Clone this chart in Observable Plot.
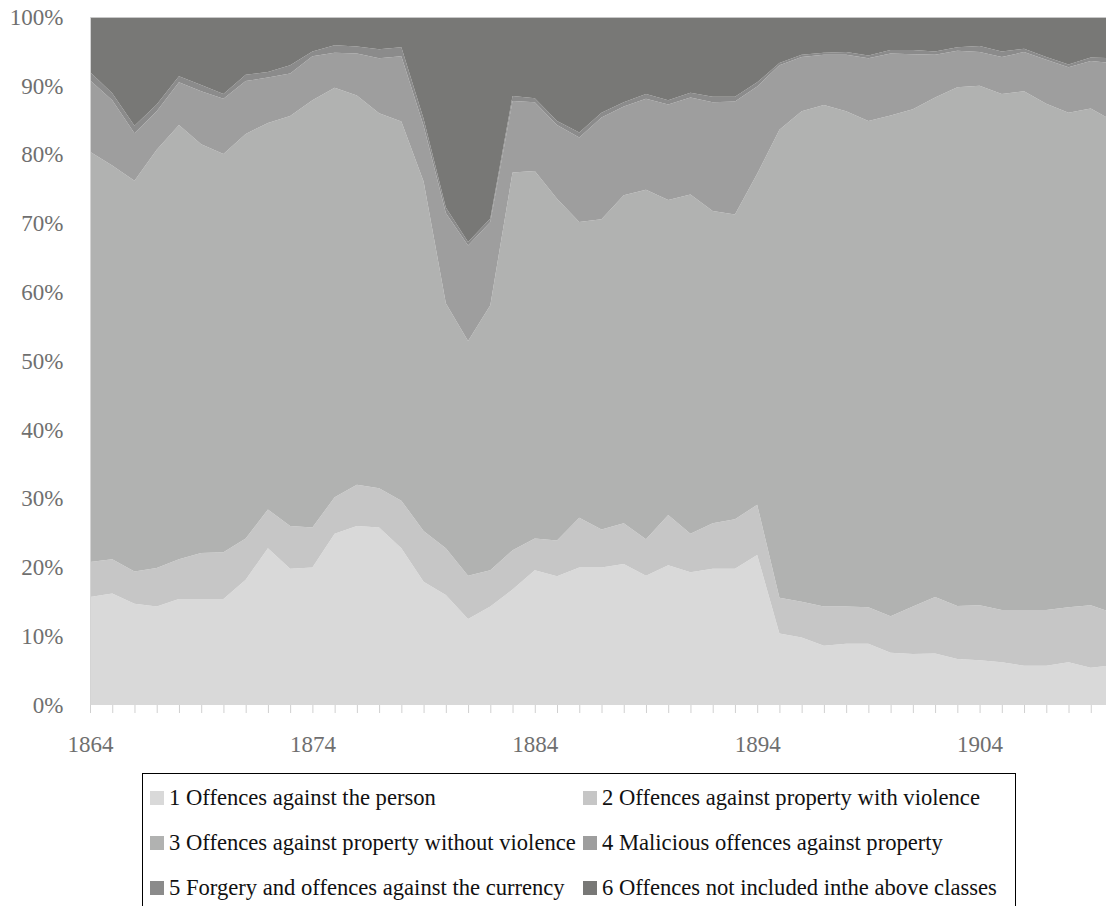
<!DOCTYPE html>
<html>
<head>
<meta charset="utf-8">
<script src="https://cdn.jsdelivr.net/npm/d3@7"></script>
<script src="https://cdn.jsdelivr.net/npm/@observablehq/plot@0.6"></script>
<style>
  body { margin: 0; background: #fff; font-family: "Liberation Serif", "DejaVu Serif", serif; }
  #wrap { position: relative; width: 1106px; height: 906px; overflow: hidden; }
  #chart { position: absolute; left: 0; top: 0; }
  #legend { position: absolute; left: 142px; top: 773px; width: 874px; height: 160px;
            border: 1px solid #000; box-sizing: border-box; background: #fff; }
  .item { position: absolute; display: flex; align-items: center; height: 24px;
          font-size: 22.6px; color: #111; white-space: nowrap; }
  .sw { width: 14px; height: 14px; margin-right: 5px; flex: none; }
</style>
</head>
<body>
<div id="wrap">
  <div id="chart"></div>
  <div id="legend"></div>
</div>
<script>
// ---- data (percent share of each class per year) ----
const years = [1864,1865,1866,1867,1868,1869,1870,1871,1872,1873,1874,1875,1876,1877,1878,1879,
  1880,1881,1882,1883,1884,1885,1886,1887,1888,1889,1890,1891,1892,1893,1894,1895,1896,1897,
  1898,1899,1900,1901,1902,1903,1904,1905,1906,1907,1908,1909,1910];

const seriesNames = [
  "1 Offences against the person",
  "2 Offences against property with violence",
  "3 Offences against property without violence",
  "4 Malicious offences against property",
  "5 Forgery and offences against the currency",
  "6 Offences not included inthe above classes"
];

const person = [15.7,16.2,14.7,14.3,15.4,15.4,15.4,18.2,22.8,19.8,20.0,24.9,26.0,25.8,22.8,17.9,
  16.0,12.5,14.3,16.8,19.6,18.7,20.0,20.0,20.5,18.8,20.3,19.3,19.8,19.8,21.8,10.4,9.8,8.6,
  8.9,8.9,7.6,7.4,7.5,6.7,6.5,6.2,5.7,5.7,6.2,5.4,5.8];

const propertyViolence = [5.1,5.0,4.7,5.6,5.8,6.7,6.8,6.0,5.6,6.2,5.8,5.3,6.0,5.7,6.9,7.4,
  6.8,6.3,5.3,5.7,4.6,5.2,7.2,5.5,5.9,5.3,7.3,5.6,6.6,7.2,7.3,5.2,5.2,5.7,
  5.4,5.3,5.3,6.9,8.2,7.7,8.0,7.6,8.1,8.1,8.0,9.1,7.6];

const propertyNoViolence = [59.6,57.2,56.8,60.8,63.1,59.4,57.9,58.8,56.2,59.6,62.1,59.5,56.6,54.5,55.1,50.8,
  35.6,34.1,38.5,54.9,53.4,49.7,43.0,45.1,47.7,50.8,45.8,49.3,45.4,44.3,48.1,68.0,71.3,72.9,
  72.0,70.7,72.8,72.3,72.6,75.4,75.5,75.0,75.4,73.6,71.9,72.2,71.5];

const malicious = [10.4,9.5,6.9,5.6,6.2,7.7,8.0,7.7,6.6,6.2,6.4,5.1,6.1,8.0,9.5,8.1,
  13.1,13.9,12.1,10.4,10.0,10.7,12.3,14.8,12.9,13.2,13.9,14.1,15.8,16.4,12.7,9.4,7.9,7.3,
  8.2,9.1,9.0,8.0,6.2,5.3,4.9,5.4,5.7,6.4,6.6,6.9,8.4];

const forgery = [1.2,1.0,1.1,1.0,0.9,0.9,0.7,0.9,0.8,1.2,0.7,1.1,1.0,1.3,1.3,1.0,
  0.8,0.5,0.5,0.7,0.6,0.6,0.7,0.7,0.6,0.7,0.6,0.7,0.8,0.7,0.6,0.3,0.3,0.3,
  0.4,0.4,0.5,0.6,0.5,0.5,0.9,0.8,0.5,0.4,0.4,0.5,0.7];

const otherOffences = [8.0,11.1,15.8,12.7,8.6,9.9,11.2,8.4,8.0,7.0,5.0,4.1,4.3,4.7,4.4,14.8,
  27.7,32.7,29.3,11.5,11.8,15.1,16.8,13.9,12.4,11.2,12.1,11.0,11.6,11.6,9.5,6.7,5.5,5.2,
  5.1,5.6,4.8,4.8,5.0,4.4,4.2,5.0,4.6,5.8,6.9,5.9,6.0];

const yTicks = [0,10,20,30,40,50,60,70,80,90,100];
const labelYears = [1864,1874,1884,1894,1904];
const colors = ["#d9d9d9","#c6c6c6","#b1b2b1","#9e9e9e","#8b8b8b","#787876"];

// ---- build long table ----
const seriesValues = [person, propertyViolence, propertyNoViolence, malicious, forgery, otherOffences];
const table = [];
seriesValues.forEach((vals, si) => {
  years.forEach((yr, i) => table.push({year: yr, series: seriesNames[si], value: vals[i]}));
});

const chart = Plot.plot({
  width: 1106,
  height: 765,
  marginTop: 17,
  marginBottom: 60,
  marginLeft: 90,
  marginRight: 0,
  x: {domain: [1864, 1910], range: [90, 1113]},
  y: {domain: [0, 100], range: [705, 17]},
  color: {domain: seriesNames, range: colors},
  style: {fontFamily: "Liberation Serif, serif", fontSize: "23px", color: "#6f6f6f", background: "transparent", overflow: "hidden"},
  marks: [
    Plot.areaY(table, {x: "year", y: "value", fill: "series", z: "series"}),
    Plot.ruleY([100], {stroke: "#c8c8c8", strokeWidth: 1}),
    Plot.ruleX([1864], {stroke: "#d4d4d4", strokeWidth: 1}),
    Plot.axisY({ticks: yTicks, tickSize: 0, tickPadding: 27, tickFormat: d => d + "%", label: null, fill: "#6f6f6f"}),
    Plot.axisX({ticks: years, tickSize: 8, tickFormat: () => "", stroke: "#d0d0d0", label: null}),
    Plot.axisX({ticks: labelYears, tickSize: 0, tickPadding: 30, tickFormat: d => String(d), label: null, fill: "#6f6f6f"})
  ]
});
document.getElementById("chart").appendChild(chart);

// ---- legend ----
const legend = document.getElementById("legend");
const colLeft = [7, 440];
const rowTop = [12, 57, 102];
seriesNames.forEach((name, i) => {
  const item = document.createElement("div");
  item.className = "item";
  item.style.left = colLeft[i % 2] + "px";
  item.style.top = rowTop[Math.floor(i / 2)] + "px";
  const sw = document.createElement("span");
  sw.className = "sw";
  sw.style.background = colors[i];
  const tx = document.createElement("span");
  tx.textContent = name;
  item.appendChild(sw);
  item.appendChild(tx);
  legend.appendChild(item);
});
</script>
</body>
</html>
